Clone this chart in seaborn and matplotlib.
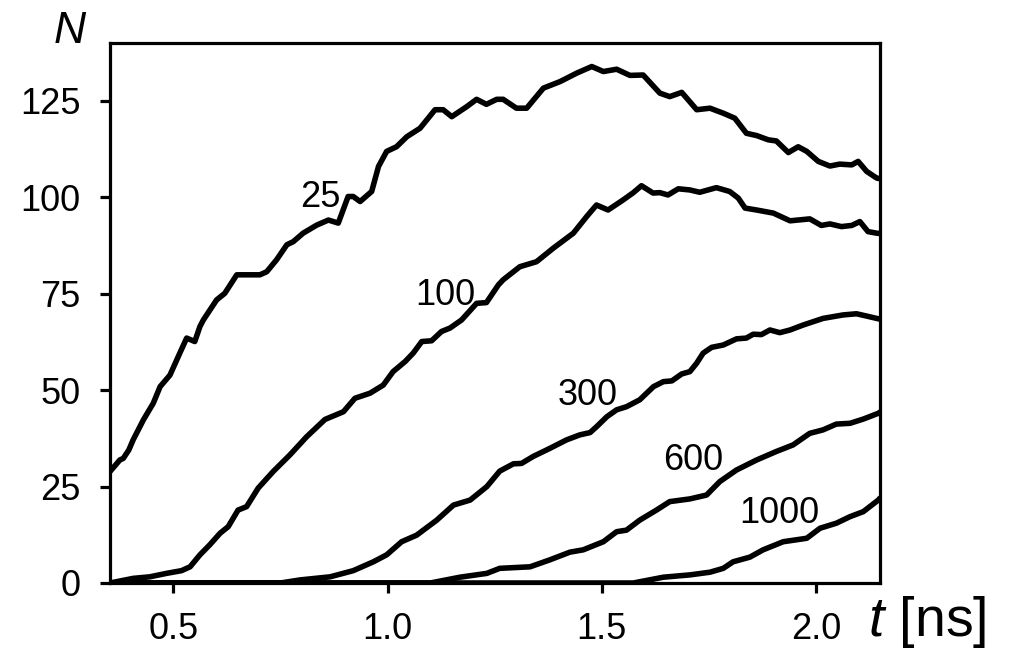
import matplotlib
matplotlib.use("Agg")
import matplotlib.pyplot as plt
import pandas as pd
import seaborn as sns

# Number of particles N versus time t [ns], one curve per parameter value
t_25 = [0.352, 0.375, 0.383, 0.396, 0.406, 0.430, 0.453, 0.469, 0.492, 0.515,
        0.531, 0.550, 0.562, 0.570, 0.601, 0.620, 0.648, 0.702, 0.718, 0.741,
        0.765, 0.780, 0.803, 0.835, 0.862, 0.885, 0.908, 0.920, 0.936, 0.963,
        0.979, 0.998, 1.021, 1.045, 1.076, 1.111, 1.130, 1.150, 1.185, 1.208,
        1.231, 1.255, 1.270, 1.301, 1.325, 1.364, 1.403, 1.442, 1.477, 1.504,
        1.535, 1.566, 1.597, 1.636, 1.659, 1.687, 1.722, 1.753, 1.784, 1.811,
        1.838, 1.862, 1.889, 1.908, 1.936, 1.959, 1.979, 2.006, 2.033, 2.056,
        2.084, 2.099, 2.119, 2.142, 2.150]
n_25 = [28.9, 31.9, 32.3, 34.5, 37.1, 42.3, 46.6, 50.9, 53.9, 59.6,
        63.5, 62.6, 66.5, 68.2, 73.4, 75.1, 79.9, 79.9, 80.7, 83.8,
        87.7, 88.5, 90.7, 92.8, 94.1, 93.3, 100.2, 100.2, 98.9, 101.5,
        108.0, 111.9, 113.1, 115.7, 117.9, 122.7, 122.7, 120.9, 123.5, 125.4,
        124.1, 125.4, 125.4, 123.1, 123.1, 128.3, 130.0, 132.2, 133.9, 132.6,
        133.2, 131.6, 131.7, 127.0, 126.1, 127.2, 122.7, 123.1, 121.8, 120.5,
        116.6, 116.0, 114.9, 114.6, 111.6, 113.1, 111.9, 109.3, 108.1, 108.6,
        108.4, 109.3, 106.7, 105.0, 104.8]

t_100 = [0.352, 0.406, 0.445, 0.484, 0.519, 0.539, 0.562, 0.585, 0.609, 0.628,
         0.651, 0.671, 0.698, 0.733, 0.772, 0.811, 0.854, 0.897, 0.924, 0.959,
         0.990, 1.013, 1.041, 1.060, 1.080, 1.103, 1.126, 1.146, 1.173, 1.208,
         1.231, 1.259, 1.270, 1.309, 1.348, 1.387, 1.434, 1.465, 1.488, 1.515,
         1.550, 1.574, 1.593, 1.620, 1.636, 1.655, 1.679, 1.706, 1.729, 1.768,
         1.799, 1.819, 1.835, 1.862, 1.901, 1.940, 1.986, 2.013, 2.033, 2.060,
         2.084, 2.103, 2.122, 2.142, 2.150]
n_100 = [0.0, 1.2, 1.6, 2.5, 3.2, 4.2, 7.3, 9.9, 12.9, 14.6,
         18.9, 19.8, 24.6, 28.9, 33.2, 37.9, 42.4, 44.4, 47.9, 49.2,
         51.3, 54.8, 57.4, 59.6, 62.6, 62.8, 65.2, 66.1, 68.2, 72.5,
         72.7, 77.3, 78.6, 82.0, 83.3, 86.8, 90.7, 95.0, 98.0, 96.7,
         99.3, 101.2, 103.0, 101.1, 101.2, 100.6, 102.2, 101.9, 101.3, 102.5,
         101.5, 99.8, 97.2, 96.7, 95.9, 93.9, 94.4, 92.7, 93.1, 92.4,
         92.7, 93.7, 91.1, 90.7, 90.6]

t_300 = [0.352, 0.750, 0.796, 0.866, 0.920, 0.967, 0.998, 1.033, 1.068, 1.115,
         1.154, 1.193, 1.232, 1.262, 1.294, 1.313, 1.340, 1.379, 1.418, 1.449,
         1.473, 1.488, 1.512, 1.535, 1.558, 1.589, 1.621, 1.644, 1.664, 1.687,
         1.706, 1.722, 1.737, 1.757, 1.784, 1.815, 1.838, 1.854, 1.873, 1.893,
         1.916, 1.940, 1.971, 2.017, 2.064, 2.095, 2.119, 2.142, 2.150]
n_300 = [0.0, 0.0, 0.8, 1.6, 3.2, 5.5, 7.3, 10.7, 12.4, 16.3,
         20.2, 21.5, 25.0, 29.0, 30.9, 31.0, 32.8, 34.9, 37.1, 38.4,
         39.0, 40.5, 43.1, 44.9, 45.7, 47.5, 50.9, 52.2, 52.4, 54.2,
         54.8, 57.0, 59.6, 61.1, 61.7, 63.3, 63.5, 64.5, 64.4, 65.6,
         64.9, 65.6, 66.9, 68.6, 69.5, 69.8, 69.2, 68.6, 68.4]

t_600 = [0.352, 1.100, 1.169, 1.232, 1.262, 1.333, 1.379, 1.426, 1.457, 1.504,
         1.535, 1.558, 1.589, 1.628, 1.659, 1.706, 1.745, 1.776, 1.815, 1.862,
         1.908, 1.947, 1.986, 2.017, 2.048, 2.080, 2.111, 2.146, 2.150]
n_600 = [0.0, 0.0, 1.5, 2.5, 3.8, 4.2, 6.0, 8.0, 8.6, 10.7,
         13.3, 13.7, 16.3, 18.9, 21.1, 21.8, 22.8, 26.3, 29.3, 31.9,
         34.1, 35.8, 38.8, 39.7, 41.2, 41.4, 42.5, 44.0, 44.3]

t_1000 = [0.352, 1.574, 1.644, 1.706, 1.753, 1.784, 1.807, 1.846, 1.877, 1.924,
          1.979, 2.010, 2.048, 2.080, 2.111, 2.146, 2.150]
n_1000 = [0.0, 0.0, 1.5, 2.1, 2.8, 3.8, 5.5, 6.7, 8.6, 10.7,
          11.6, 14.2, 15.5, 17.2, 18.5, 21.5, 22.0]

series_labels = ["25", "100", "300", "600", "1000"]
x_ticks = [0.5, 1.0, 1.5, 2.0]
x_tick_labels = ["0.5", "1.0", "1.5", "2.0"]
y_ticks = [0, 25, 50, 75, 100, 125]

# long-form table for seaborn
frames = []
for label, t, n in zip(series_labels,
                       [t_25, t_100, t_300, t_600, t_1000],
                       [n_25, n_100, n_300, n_600, n_1000]):
    frames.append(pd.DataFrame({"t": t, "N": n, "series": label}))
df = pd.concat(frames, ignore_index=True)

sns.set_theme(style="ticks")
plt.rcParams["font.family"] = ["Liberation Sans", "DejaVu Sans"]
plt.rcParams["mathtext.fontset"] = "custom"
plt.rcParams["mathtext.it"] = "Liberation Sans:italic"
plt.rcParams["mathtext.rm"] = "Liberation Sans"

W, H = 1011, 649
fig = plt.figure(figsize=(W / 100, H / 100), dpi=100)
ax = fig.add_axes([110 / W, 66 / H, 770 / W, 540 / H])

sns.lineplot(data=df, x="t", y="N", units="series", estimator=None,
             color="black", linewidth=4.0, sort=False, legend=False, ax=ax,
             solid_joinstyle="round", solid_capstyle="round")

# curve labels placed beside each line
label_anchor = [(0.842, 97.5), (1.134, 72.1), (1.468, 46.2),
                (1.713, 29.3), (1.916, 15.6)]
for label, (lx, ly) in zip(series_labels, label_anchor):
    ax.text(lx, ly, label, ha="center", va="baseline", fontsize=26,
            color="black")

ax.set_xlim(0.352, 2.15)
ax.set_ylim(0, 140)
ax.set_xticks(x_ticks)
ax.set_xticklabels(x_tick_labels)
ax.set_yticks(y_ticks)
ax.set_xlabel("")
ax.set_ylabel("")

for side in ["left", "right", "top", "bottom"]:
    ax.spines[side].set_visible(True)
    ax.spines[side].set_linewidth(2.3)
    ax.spines[side].set_color("black")

ax.tick_params(direction="out", length=7, width=2.3, pad=14,
               labelsize=26, colors="black")
ax.set_facecolor("white")
fig.patch.set_facecolor("white")

ax.text(-0.052, 1.0, "N", transform=ax.transAxes, ha="center",
        va="baseline", fontsize=32, style="italic", color="black")
fig.text(868 / W, 1 - 636 / H, r"$t$ [ns]", ha="left", va="baseline",
         fontsize=40, color="black")

fig.savefig("out.png", dpi=100)
